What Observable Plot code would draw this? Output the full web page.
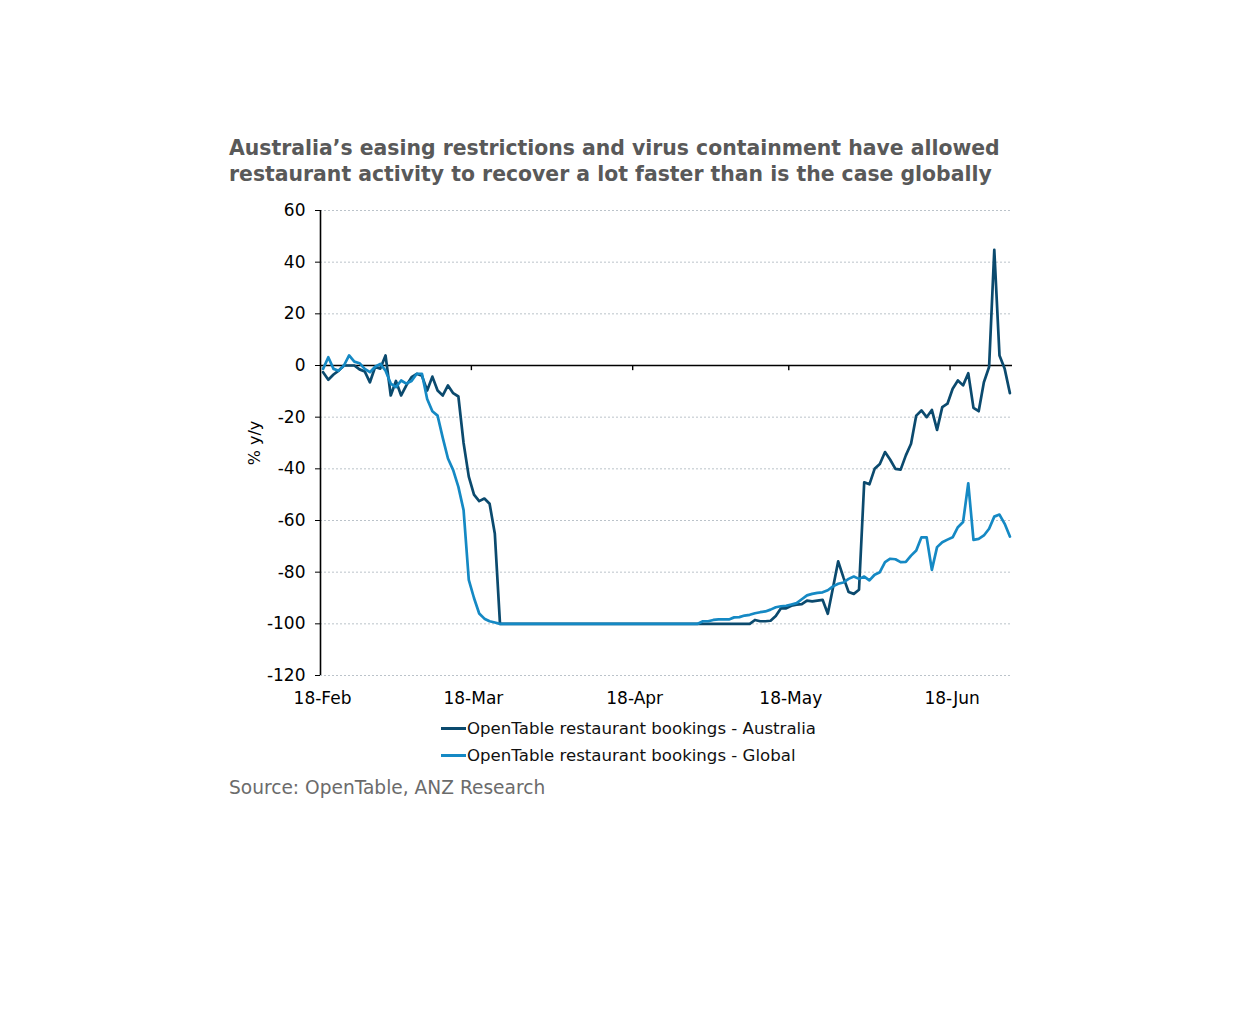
<!DOCTYPE html>
<html>
<head>
<meta charset="utf-8">
<script src="https://cdn.jsdelivr.net/npm/d3@7"></script>
<script src="https://cdn.jsdelivr.net/npm/@observablehq/plot@0.6"></script>
<style>
  html, body { margin: 0; padding: 0; background: #fff; }
  #wrap { position: relative; width: 1259px; height: 1020px; font-family: "DejaVu Sans", Verdana, sans-serif; }
  #title { position: absolute; left: 229px; top: 135px; font-size: 20.4px; line-height: 26px; font-weight: bold; color: #595959; white-space: nowrap; }
  #chart { position: absolute; left: 0; top: 195px; }
  #ylabel { position: absolute; left: 254px; top: 443px; transform: translate(-50%, -50%) rotate(-90deg); font-size: 16px; color: #000; white-space: nowrap; }
  .leg { position: absolute; left: 441px; font-size: 16.6px; color: #111; white-space: nowrap; display: flex; align-items: center; height: 20px; }
  .leg span.sw { display: inline-block; width: 25px; height: 3px; margin-right: 1px; }
  #source { position: absolute; left: 229px; top: 777px; font-size: 18.6px; color: #6b6b6b; white-space: nowrap; }
</style>
</head>
<body>
<div id="wrap">
  <div id="title">Australia’s easing restrictions and virus containment have allowed<br>restaurant activity to recover a lot faster than is the case globally</div>
  <div id="chart"></div>
  <div id="ylabel">% y/y</div>
  <div class="leg" id="leg1" style="top:718px"><span class="sw" style="background:#0b4a6e"></span>OpenTable restaurant bookings - Australia</div>
  <div class="leg" id="leg2" style="top:745px"><span class="sw" style="background:#1589c4"></span>OpenTable restaurant bookings - Global</div>
  <div id="source">Source: OpenTable, ANZ Research</div>
</div>
<script>
// ---- data ----
const startDate = "2020-02-18";
const endDate = "2020-06-30";
const seriesNames = ["OpenTable restaurant bookings - Australia", "OpenTable restaurant bookings - Global"];
const seriesColors = ["#0b4a6e", "#1589c4"];

const australia = [
  -2.6, -5.5, -3.5, -2, 0, 0, 0, -1.5, -2.3, -6.5,
  -0.6, -1.2, 3.9, -11.6, -6, -11.6, -7.7, -4.5, -3.2, -4,
  -9.7, -4.3, -9.7, -11.6, -7.7, -10.7, -12, -30, -43, -50,
  -52.5, -51.5, -53.5, -65, -100,
  -100, -100, -100, -100, -100, -100, -100, -100, -100, -100,
  -100, -100, -100, -100, -100, -100, -100, -100, -100, -100,
  -100, -100, -100, -100, -100, -100, -100, -100, -100, -100,
  -100, -100, -100, -100, -100, -100, -100, -100, -100, -100,
  -100, -100, -100, -100, -100, -100, -100, -100,
  -98.5, -99, -99, -98.8, -97, -94, -94, -93, -92.6, -92.4,
  -91, -91.3, -91, -90.7, -96.1, -86, -75.8, -82, -87.7, -88.4,
  -86.8, -45.2, -46, -40, -38.1, -33.5, -36.5, -40, -40.3, -34.8,
  -30.3, -19.4, -17.4, -20, -17.2, -24.9, -16.1, -14.8, -9, -5.8,
  -7.7, -3, -16.4, -17.7, -6.5, -0.6, 44.8, 3.9, -1.3, -10.7
];

const global = [
  -1.3, 3.2, -1.3, -2, 0, 3.9, 1.5, 0.9, -1.3, -2.6,
  -0.5, 0.6, -2, -7, -8.4, -5.8, -7, -6, -3.2, -3.2,
  -13, -17.7, -19.4, -28, -36, -40.5, -47, -56, -83, -90,
  -96, -98, -99, -99.5, -100,
  -100, -100, -100, -100, -100, -100, -100, -100, -100, -100,
  -100, -100, -100, -100, -100, -100, -100, -100, -100, -100,
  -100, -100, -100, -100, -100, -100, -100, -100, -100, -100,
  -100, -100, -100, -100, -100, -100, -100,
  -100, -99, -99, -98.5, -98.3, -98.3, -98.3, -97.5, -97.4, -96.8,
  -96.5, -95.9, -95.5, -95.2, -94.5, -93.6, -93.2, -93, -92.5, -92,
  -90.5, -89, -88.4, -88, -87.8, -87, -85.5, -84.5, -84, -82.6,
  -81.7, -82.6, -81.7, -83.2, -81, -80, -76.1, -74.8, -75, -76.1,
  -76, -73.6, -71.6, -66.5, -66.5, -79.1, -70.3, -68.4, -67.4, -66.5,
  -62.6, -60.6, -45.6, -67.5, -67.1, -65.8, -63.2, -58.5, -57.7, -61.3,
  -66.2
];

const xTickLabels = ["18-Feb", "18-Mar", "18-Apr", "18-May", "18-Jun"];
const xTickDates = ["2020-02-18", "2020-03-18", "2020-04-18", "2020-05-18", "2020-06-18"];
const yTicks = [-120, -100, -80, -60, -40, -20, 0, 20, 40, 60];

// ---- build table ----
const t0 = new Date(startDate + "T00:00:00Z");
const dayDate = (i) => new Date(t0.getTime() + (i + 0.5) * 86400000);
const rows = [];
australia.forEach((v, i) => rows.push({date: dayDate(i), value: v, series: seriesNames[0]}));
global.forEach((v, i) => rows.push({date: dayDate(i), value: v, series: seriesNames[1]}));
const tickDates = xTickDates.map(s => new Date(s + "T00:00:00Z"));

const chart = Plot.plot({
  width: 1259,
  height: 520,
  marginLeft: 320,
  marginRight: 247,
  marginTop: 15,
  marginBottom: 40,
  style: {fontFamily: "DejaVu Sans, Verdana, sans-serif", fontSize: "17px", color: "#000", background: "transparent"},
  x: {type: "utc", domain: [t0, new Date(endDate + "T00:00:00Z")]},
  y: {domain: [-120, 60]},
  color: {domain: seriesNames, range: seriesColors},
  marks: [
    Plot.gridY(yTicks.filter(d => d !== 0), {stroke: "#aab4bc", strokeOpacity: 1, strokeWidth: 0.8, strokeDasharray: "2,2"}),
    Plot.axisY({ticks: yTicks, tickSize: 5, tickPadding: 10, tickFormat: d => d3.format("d")(d).replace("−", "-"), label: null, fill: "#000", stroke: "#000", fontSize: 17}),
    Plot.axisX({ticks: tickDates, tickSize: 0, tickPadding: 16, dx: 2, tickFormat: (d, i) => xTickLabels[i], label: null, fill: "#000", fontSize: 17}),
    Plot.ruleX([t0], {y1: -120, y2: 60, stroke: "#000", strokeWidth: 1.6}),
    Plot.ruleY([0], {stroke: "#000", strokeWidth: 1.6}),
    Plot.ruleX(tickDates.slice(1), {y1: 0, y2: -2, stroke: "#000", strokeWidth: 1.4}),
    Plot.line(rows, {x: "date", y: "value", z: "series", stroke: "series", strokeWidth: 2.7, strokeLinejoin: "round"})
  ]
});
document.getElementById("chart").appendChild(chart);
</script>
</body>
</html>
